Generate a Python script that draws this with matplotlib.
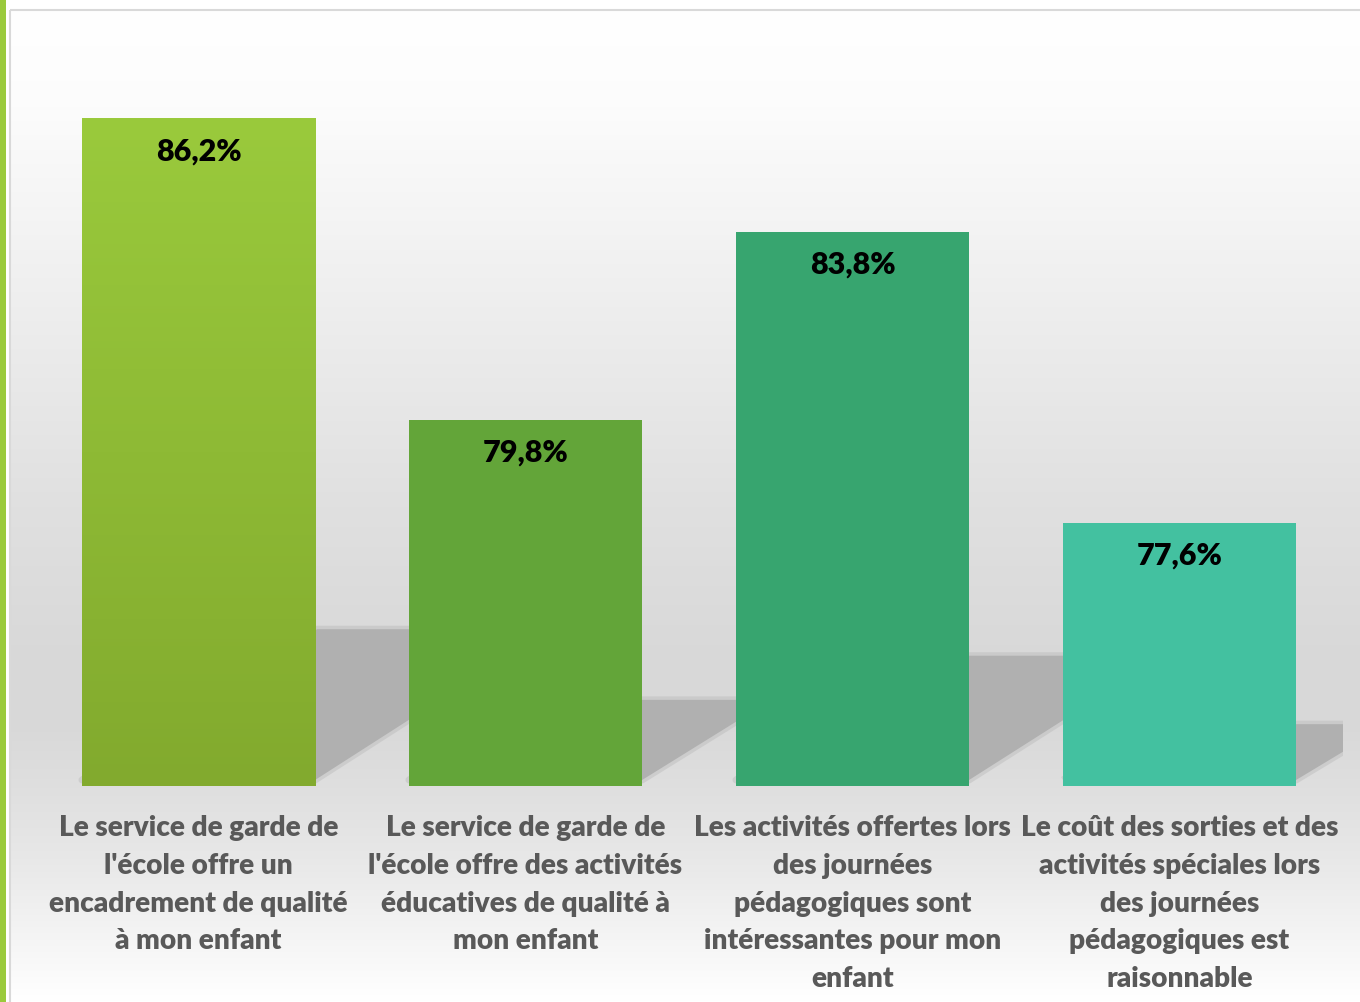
import numpy as np
import matplotlib
matplotlib.use("Agg")
import matplotlib.pyplot as plt
from matplotlib.patches import Polygon, Rectangle
from matplotlib.colors import LinearSegmentedColormap

# Data.
categories = [
    "Le service de garde de\nl'école offre un\nencadrement de qualité\nà mon enfant",
    "Le service de garde de\nl'école offre des activités\néducatives de qualité à\nmon enfant",
    "Les activités offertes lors\ndes journées\npédagogiques sont\nintéressantes pour mon\nenfant",
    "Le coût des sorties et des\nactivités spéciales lors\ndes journées\npédagogiques est\nraisonnable",
]
values = [86.2, 79.8, 83.8, 77.6]
value_labels = ["86,2%", "79,8%", "83,8%", "77,6%"]
bar_colors = ["#9aca3c", "#63a539", "#37a56f", "#43c1a0"]

plt.rcParams['font.family'] = ['Lato', 'DejaVu Sans']

W, H = 1360, 1002
YMIN, YMAX = 72, 88
BAR_W = 0.713

fig = plt.figure(figsize=(W / 100, H / 100), dpi=100)

# Background: grey gradient frame and green strip on the left.
bg = fig.add_axes([0, 0, 1, 1])
bg.set_xlim(0, W)
bg.set_ylim(H, 0)
bg.axis("off")
ys = np.arange(10, H + 1)
stops_y = [10, 100, 300, 500, 650, 730, 790, 860, 1002]
stops_v = [1.0, 0.99, 0.935, 0.88, 0.85, 0.85, 0.875, 0.91, 1.0]
col = np.interp(ys, stops_y, stops_v)
rgb = np.repeat(np.repeat(col[:, None, None], 3, axis=2), 2, axis=1)
bg.imshow(rgb, extent=[10, W, H, 10], aspect="auto", interpolation="nearest")
bg.add_patch(Rectangle((10, 10), W, H, fill=False, edgecolor="#d9d9d9", lw=1.5))
bg.add_patch(Rectangle((0, 0), 5.5, H, color="#9aca3c", lw=0))

# Main chart.
left, right, base_px, top_px = 35, 1343, 786, 34.3
ax = fig.add_axes([left / W, (H - base_px) / H, (right - left) / W, (base_px - top_px) / H])
ax.patch.set_alpha(0)
for s in ax.spines.values():
    s.set_visible(False)
ax.set_xticks([])
ax.set_yticks([])

x = np.arange(len(values))
px_per_x = (right - left) / 4
px_per_y = (base_px - top_px) / (YMAX - YMIN)

# Perspective shadows behind bars (soft edge + solid core).
for i, v in enumerate(values):
    hs = 0.235 * (v - YMIN)
    dx = 1.5 * hs * px_per_y / px_per_x
    xl, xr = i - BAR_W / 2, i + BAR_W / 2
    b = YMIN + 6 / px_per_y
    pts = [(xl, b), (xr, b), (xr + dx, YMIN + hs), (xl + dx, YMIN + hs)]
    ax.add_patch(Polygon(pts, closed=True, facecolor="none", edgecolor="#b0b0b0",
                         lw=5, alpha=0.35, joinstyle="round", zorder=1))
    ax.add_patch(Polygon(pts, closed=True, facecolor="#b0b0b0", edgecolor="none",
                         zorder=1))

bars = ax.bar(x, [v - YMIN for v in values], bottom=YMIN, width=BAR_W,
              color=bar_colors, zorder=3)

# First bar has a vertical gradient.
cmap = LinearSegmentedColormap.from_list("g1", ["#82aa2e", "#9aca3c"])
grad = np.linspace(1, 0, 256)[:, None]
ax.imshow(grad, cmap=cmap, extent=[-BAR_W / 2, BAR_W / 2, YMIN, values[0]],
          aspect="auto", zorder=4)

ax.set_xlim(-0.5, 3.5)
ax.set_ylim(YMIN, YMAX)

for i, (v, lbl) in enumerate(zip(values, value_labels)):
    ax.annotate(lbl, (i, v), xytext=(0, -33 * 0.72), textcoords="offset points",
                ha="center", va="center", fontsize=22, fontweight="heavy",
                color="black", zorder=5)

for i, cat in enumerate(categories):
    ax.annotate(cat, (i, YMIN), xytext=(0, -29 * 0.72), textcoords="offset points",
                ha="center", va="top", fontsize=20.2, fontweight="heavy",
                color="#595959", linespacing=1.56, annotation_clip=False)

fig.savefig("out.png", dpi=100)
